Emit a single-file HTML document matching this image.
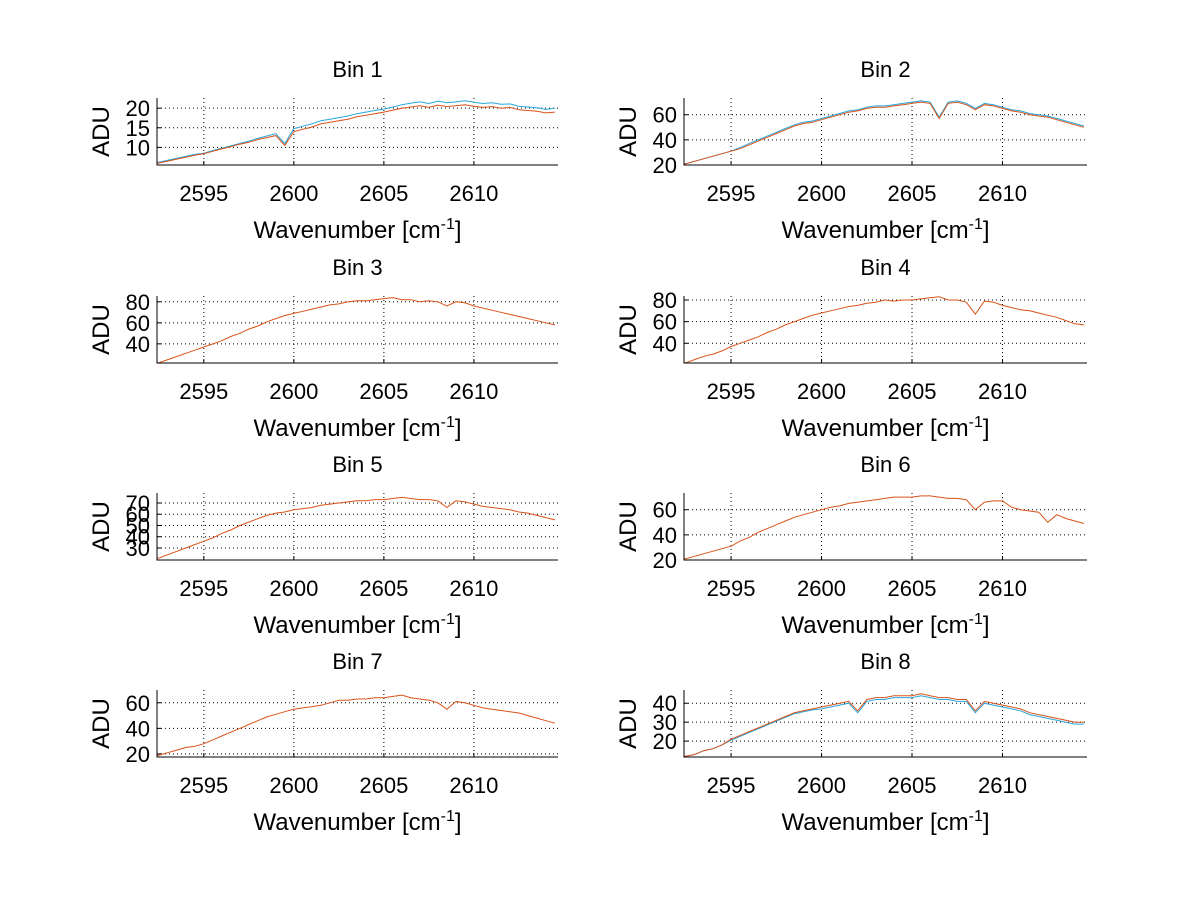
<!DOCTYPE html>
<html><head><meta charset="utf-8">
<style>
html,body{margin:0;padding:0;background:#fff;}
svg{display:block;font-family:"Liberation Sans",sans-serif;}
</style></head>
<body>
<svg id="fig" width="1200" height="901" viewBox="0 0 1200 901" xmlns="http://www.w3.org/2000/svg">
<rect width="1200" height="901" fill="#fff"/>
</svg>
<script>
const xs = [2592.5,2593,2593.5,2594,2594.5,2595,2595.5,2596,2596.5,2597,2597.5,2598,2598.5,2599,2599.5,2600,2600.5,2601,2601.5,2602,2602.5,2603,2603.5,2604,2604.5,2605,2605.5,2606,2606.5,2607,2607.5,2608,2608.5,2609,2609.5,2610,2610.5,2611,2611.5,2612,2612.5,2613,2613.5,2614,2614.5];
const xTicks = [2595,2600,2605,2610];
const bin1Red = [6,6.5,7,7.5,8,8.4,9,9.6,10.2,10.8,11.3,12,12.5,13,10.5,14,14.6,15.2,16,16.4,16.8,17.2,17.8,18.2,18.6,19,19.5,20,20.3,20.6,20.2,20.8,20.4,20.6,20.9,20.5,20.2,20.4,20,20.2,19.6,19.4,19.2,18.8,19];
const bin1Blue = [6.2,6.7,7.2,7.7,8.2,8.5,9.2,9.8,10.4,11,11.6,12.3,12.9,13.5,11,14.8,15.4,16,16.8,17.2,17.6,18,18.6,19,19.4,19.8,20.3,20.9,21.3,21.6,21.2,21.8,21.4,21.6,21.9,21.5,21.2,21.4,21,21.1,20.5,20.3,20.1,19.7,20];
const bin2Red = [21,23,25,27,29,31,33,36,39,42,45,48,51,53,54,56,58,60,62,63,65,66,66,67,68,69,70,69,57,69,70,68,64,68,67,65,63,62,60,59,58,56,54,52,50];
const bin2Blue = [21,23,25,27,29,31,34,37,40,43,46,49,52,54,55,57,59,61,63,64,66,67,67,68,69,70,71,70,58,70,71,69,65,69,68,66,64,63,61,60,59,57,55,53,51];
const bin3Red = [22,25,28,31,34,37,40,43,47,50,54,57,61,64,67,69,71,73,75,77,78,80,81,81,82,83,84,82,82,80,81,80,76,80,79,76,74,72,70,68,66,64,62,60,58];
const bin4Red = [22,25,28,30,33,37,40,43,46,50,53,57,60,63,66,68,70,72,74,75,77,78,80,79,80,80,81,82,83,80,80,78,67,79,78,75,73,71,70,68,66,64,61,58,57];
const bin5Red = [21,24,27,30,33,36,39,43,46,50,53,56,59,61,62,64,65,66,68,69,70,71,72,72,73,73,74,75,74,73,73,72,66,72,71,69,67,66,65,64,62,61,59,57,55];
const bin6Red = [21,23,25,27,29,31,35,38,42,45,48,51,54,56,58,60,62,63,65,66,67,68,69,70,70,70,71,71,70,69,69,68,60,66,67,67,62,60,59,58,50,56,53,51,49];
const bin7Red = [19,21,23,25,26,28,31,34,37,40,43,46,49,51,53,55,56,57,58,60,62,62,63,63,64,64,65,66,64,63,62,60,55,61,60,58,56,55,54,53,52,50,48,46,44];
const bin8Red = [12,13,15,16,18,21,23,25,27,29,31,33,35,36,37,38,39,40,41,36,42,43,43,44,44,44,45,44,43,43,42,42,36,41,40,39,38,37,35,34,33,32,31,30,30];
const bin8Blue = [12,13,15,16,18,20.5,22.5,24.5,26.5,28.5,30.5,32.5,34.5,35.5,36.5,37,38,39,40,35,41,42,42,43,43,43,44,43,42,42,41,41,35,40,39,38,37,36,34,33,32,31,30,29,29];
const panels = [
 {title:"Bin 1", red:bin1Red, blue:bin1Blue, ymin:5.5, ymax:22.6, yTicks:[10,15,20], col:0, row:0},
 {title:"Bin 2", red:bin2Red, blue:bin2Blue, ymin:20, ymax:73.3, yTicks:[20,40,60], col:1, row:0},
 {title:"Bin 3", red:bin3Red, blue:null, ymin:21.8, ymax:85.5, yTicks:[40,60,80], col:0, row:1},
 {title:"Bin 4", red:bin4Red, blue:null, ymin:21.8, ymax:83.7, yTicks:[40,60,80], col:1, row:1},
 {title:"Bin 5", red:bin5Red, blue:null, ymin:19.3, ymax:78.9, yTicks:[30,40,50,60,70], col:0, row:2},
 {title:"Bin 6", red:bin6Red, blue:null, ymin:20, ymax:73.3, yTicks:[20,40,60], col:1, row:2},
 {title:"Bin 7", red:bin7Red, blue:null, ymin:17.6, ymax:70, yTicks:[20,40,60], col:0, row:3},
 {title:"Bin 8", red:bin8Red, blue:bin8Blue, ymin:11.6, ymax:47, yTicks:[20,30,40], col:1, row:3}
];
const XMIN=2592.4, XMAX=2614.67;
const colX=[157,684], AW=[401,403], rowY=[98,296,493,690], AH=67;
const NS="http://www.w3.org/2000/svg";
const fig=document.getElementById('fig');
function mk(tag,attrs,parent){const e=document.createElementNS(NS,tag);for(const k in attrs)e.setAttribute(k,attrs[k]);parent.appendChild(e);return e;}
panels.forEach((p,pi)=>{
  const x0=colX[p.col], w=AW[p.col], y0=rowY[p.row], h=AH;
  const sx=v=>x0+(v-XMIN)/(XMAX-XMIN)*w;
  const sy=v=>y0+h-(v-p.ymin)/(p.ymax-p.ymin)*h;
  const g=mk('g',{},fig);
  
  
  xTicks.forEach(t=>{
    const l=mk('line',{x1:sx(t),x2:sx(t),y1:y0,y2:y0+h,stroke:'#000','stroke-width':1,'stroke-dasharray':'1,3'},g);
    
    
    mk('line',{x1:sx(t),x2:sx(t),y1:y0+h,y2:y0+h-4,stroke:'#000'},g);
    const tx=mk('text',{x:sx(t),y:y0+h+36,'font-size':22,'text-anchor':'middle',fill:'#000'},g);
    tx.textContent=t;
    
    
  });
  p.yTicks.forEach(t=>{
    const l=mk('line',{x1:x0,x2:x0+w,y1:sy(t),y2:sy(t),stroke:'#000','stroke-width':1,'stroke-dasharray':'1,3'},g);
    
    
    mk('line',{x1:x0,x2:x0+4,y1:sy(t),y2:sy(t),stroke:'#000'},g);
    const tx=mk('text',{x:x0-7,y:sy(t)+8,'font-size':22,'text-anchor':'end',fill:'#000'},g);
    tx.textContent=t;
    
    
  });
  const line=(arr,color,name)=>{
    const pts=arr.map((v,i)=>sx(xs[i]).toFixed(1)+','+sy(v).toFixed(1));
    pts.unshift(sx(XMIN).toFixed(1)+','+sy(arr[0]).toFixed(1));
    const pl=mk('polyline',{points:pts.join(' '),fill:'none',stroke:color,'stroke-width':1},g);
    
    
  };
  if(p.blue) line(p.blue,'#2aa7dc','series-blue');
  line(p.red,'#d95319','series-red');
  const ax=mk('path',{d:`M${x0},${y0} V${y0+h} H${x0+w}`,fill:'none',stroke:'#000','stroke-width':1},g);
  
  
  const ti=mk('text',{x:x0+w/2,y:y0-21,'font-size':22,'text-anchor':'middle',fill:'#000'},g);
  ti.textContent=p.title;
  
  
  const yl=mk('text',{x:0,y:0,'font-size':24,'text-anchor':'middle',fill:'#000',transform:`translate(${x0-48},${y0+h/2}) rotate(-90)`},g);
  yl.textContent='ADU';
  
  
  const xl=mk('text',{x:x0+w/2,y:y0+h+73,'font-size':24,'text-anchor':'middle',fill:'#000'},g);
  xl.innerHTML='Wavenumber [cm<tspan dy="-9" font-size="16">-1</tspan><tspan dy="9">]</tspan>';
  
  
});
</script>
</body></html>
